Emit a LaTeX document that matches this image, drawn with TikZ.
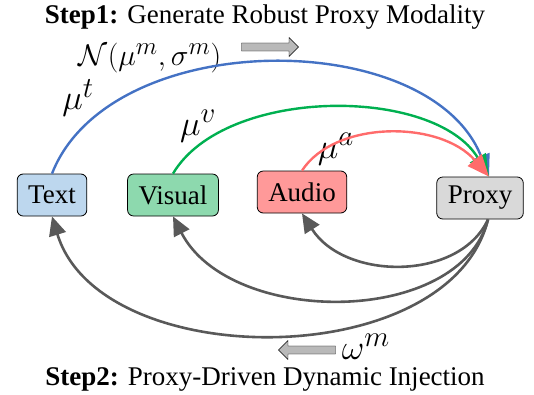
\documentclass[tikz,border=0pt]{standalone}
\usepackage{amsmath}
\usepackage{graphicx}
\usepackage{fontspec}
\setmainfont{Liberation Serif}
\usetikzlibrary{arrows.meta,shapes.arrows}

\definecolor{textfill}{HTML}{BDD7EE}
\definecolor{visualfill}{HTML}{8DD9AE}
\definecolor{audiofill}{HTML}{FF9999}
\definecolor{proxyfill}{HTML}{D9D9D9}
\definecolor{bluearc}{HTML}{4472C4}
\definecolor{greenarc}{HTML}{00B050}
\definecolor{redarc}{HTML}{FF6B6B}
\definecolor{backarc}{HTML}{595959}
\newcommand{\bigsym}[2]{\scalebox{#1}{\fontsize{24.88}{28}\selectfont$#2$}}

\begin{document}
\begin{tikzpicture}[x=1pt,y=-1pt]
\tikzset{modality/.style={draw,thick,rounded corners=6pt,minimum height=42pt,
        inner xsep=11pt,font=\fontsize{27}{30}\selectfont},
    fwd/.style={line width=2.4pt,-{Triangle[length=22pt,width=18pt]}},
    inject/.style={line width=2.6pt,backarc,-{Triangle[length=19pt,width=17pt]}},
    blockarrow/.style={single arrow,draw,fill=gray!55,minimum height=57pt,
        minimum width=19pt,single arrow head extend=3pt,inner sep=2pt},
    symbol/.style={inner sep=0pt}}
\useasboundingbox (0,0) rectangle (534,394);
% modalities
\node[modality,fill=textfill] (text) at (52,195) {Text};
\node[modality,fill=visualfill] (visual) at (173,195) {Visual};
\node[modality,fill=audiofill] (audio) at (302,192) {Audio};
\node[modality,fill=proxyfill] (proxy) at (480,198) {Proxy};
% headings
\node[font=\fontsize{27}{30}\selectfont] (step1) at (265,17) {\textbf{Step1:} Generate Robust Proxy Modality};
\node[font=\fontsize{27}{30}\selectfont] (step2) at (265,379) {\textbf{Step2:} Proxy-Driven Dynamic Injection};
\node[symbol] (gauss) at (150,58) {\bigsym{1.2}{\mathcal{N}(\mu^m,\sigma^m)}};
\node[blockarrow] (arrow1) at (268,47) {};
\node[blockarrow,shape border rotate=180] (arrow2) at (309,350) {};
\node[symbol] (omega) at (366,347) {\bigsym{1.4}{\omega^m}};
\node[symbol] (mut) at (78,98) {\bigsym{1.4}{\mu^t}};
\node[symbol] (muv) at (198,126) {\bigsym{1.4}{\mu^v}};
\node[symbol] (mua) at (336,149) {\bigsym{1.4}{\mu^a}};
% step 1: modalities to proxy
\coordinate (hit) at ([xshift=9pt]proxy.north);
\draw[fwd,bluearc] (text.north) .. controls (110,26) and (430,26) .. (hit);
\draw[fwd,greenarc] (visual.north) .. controls (225,86) and (435,86) .. (hit);
\draw[fwd,redarc] (audio.north) .. controls (335,120) and (440,120) .. (hit);
% step 2: proxy back to modalities
\coordinate (leave) at ([xshift=8pt]proxy.south);
\draw[inject] (leave) .. controls (460,281) and (345,281) .. (audio.south);
\draw[inject] (leave) .. controls (460,327) and (230,327) .. (visual.south);
\draw[inject] (leave) .. controls (450,374) and (100,374) .. (text.south);
\end{tikzpicture}
\end{document}
